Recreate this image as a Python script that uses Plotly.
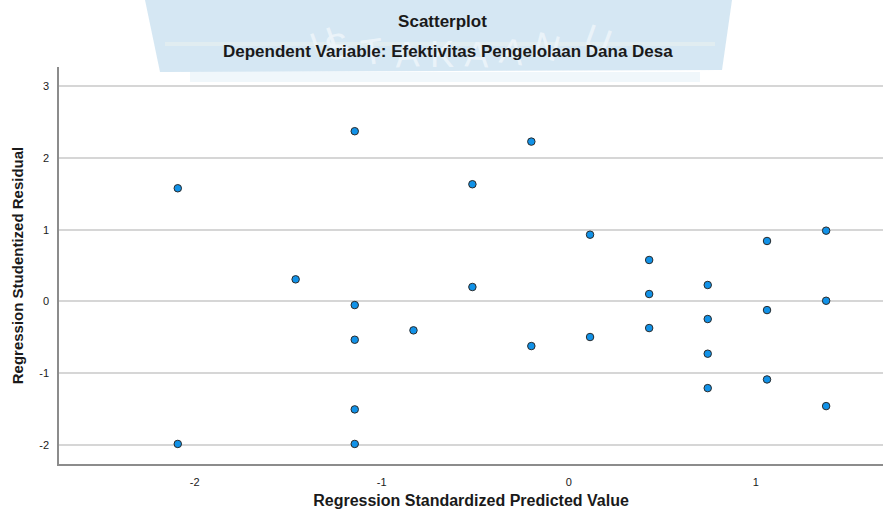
"""Residual scatterplot (SPSS style) rebuilt with Plotly."""

import plotly.graph_objects as go

# Regression standardized predicted value (x) and studentized residual (y)
pred = [-2.09, -2.09, -1.46, -1.144, -1.144, -1.144, -1.144, -1.144, -0.83,
        -0.515, -0.515, -0.20, -0.20, 0.114, 0.114, 0.43, 0.43, 0.43,
        0.743, 0.743, 0.743, 0.743, 1.06, 1.06, 1.06, 1.376, 1.376, 1.376]
resid = [1.578, -1.99, 0.307, 2.374, -0.052, -0.536, -1.508, -1.99, -0.405,
         1.634, 0.20, 2.229, -0.624, 0.93, -0.498, 0.577, 0.102, -0.373,
         0.228, -0.247, -0.731, -1.211, 0.842, -0.122, -1.09, 0.986, 0.008, -1.462]

x_ticks = [-2, -1, 0, 1]
x_labels = ["-2", "-1", "0", "1"]
y_ticks = [-2, -1, 0, 1, 2, 3]
y_labels = ["-2", "-1", "0", "1", "2", "3"]

# faint library watermark letters behind the title
wm_letters = ["U", "S", "T", "A", "K", "A", "A", "N", "U"]

W, H = 885, 521
ML, MR, MT, MB = 59, 2, 67, 57
PW, PH = W - ML - MR, H - MT - MB


def px(x):
    return (x - ML) / PW


def py(y):
    return (H - MB - y) / PH


FONT = "Liberation Sans, Arial, sans-serif"
INK = "#1a1a1a"

fig = go.Figure()

fig.add_trace(go.Scatter(
    x=pred,
    y=resid,
    mode="markers",
    marker=dict(size=7.5, color="#1192e8", line=dict(color="#2a2a2a", width=1)),
    showlegend=False,
    hovertemplate="%{x:.3f}, %{y:.3f}<extra></extra>",
))

# watermark: pale blue shield band behind the titles
fig.add_shape(
    type="path",
    xref="paper", yref="paper",
    path=(f"M {px(145)} {py(0)} L {px(732)} {py(0)} L {px(722)} {py(70)} "
          f"L {px(160)} {py(72)} Z"),
    fillcolor="rgba(206,227,241,0.85)",
    line=dict(width=0),
    layer="below",
)
fig.add_shape(
    type="rect", xref="paper", yref="paper",
    x0=px(190), x1=px(700), y0=py(72), y1=py(82),
    fillcolor="rgba(206,227,241,0.3)", line=dict(width=0), layer="below",
)
fig.add_shape(
    type="rect", xref="paper", yref="paper",
    x0=px(165), x1=px(715), y0=py(42), y1=py(46),
    fillcolor="rgba(240,245,240,0.45)", line=dict(width=0), layer="below",
)

wm_pos = [(302, 16, -20), (337, 21, -14), (372, 27, -8), (407, 31, -3),
          (442, 32, 0), (477, 31, 3), (512, 27, 8), (547, 21, 14), (598, 13, 20)]
for ch, (lx, ly, ang) in zip(wm_letters, wm_pos):
    fig.add_annotation(
        text=ch, x=px(lx), y=py(ly), xref="paper", yref="paper",
        showarrow=False, textangle=ang,
        font=dict(family=FONT, size=36, color="rgba(238,245,250,0.9)"),
    )

fig.add_annotation(
    text="<b>Dependent Variable: Efektivitas Pengelolaan Dana Desa</b>",
    x=px(448), y=py(52), xref="paper", yref="paper",
    showarrow=False, xanchor="center", yanchor="middle",
    font=dict(family=FONT, size=17, color=INK),
)

fig.update_layout(
    width=W, height=H,
    margin=dict(l=ML, r=MR, t=MT, b=MB),
    paper_bgcolor="white",
    plot_bgcolor="rgba(0,0,0,0)",
    font=dict(family=FONT, color=INK),
    title=dict(
        text="<b>Scatterplot</b>",
        x=0.5, xref="container", xanchor="center",
        y=1 - 21 / H, yref="container", yanchor="middle",
        font=dict(family=FONT, size=17, color=INK),
    ),
    xaxis=dict(
        range=[-2.725, 1.68],
        tickvals=x_ticks, ticktext=x_labels,
        showgrid=False, zeroline=False,
        showline=True, linecolor="#8c8c8c", linewidth=1.5,
        ticks="", ticklabelstandoff=7,
        tickfont=dict(size=11, color=INK),
        automargin=False,
        title=dict(text="<b>Regression Standardized Predicted Value</b>",
                   standoff=8, font=dict(size=16, color=INK)),
    ),
    yaxis=dict(
        range=[-2.27, 3.27],
        tickvals=y_ticks, ticktext=y_labels,
        showgrid=True, gridcolor="#d6d6d6", gridwidth=1.5,
        zeroline=False,
        showline=True, linecolor="#8c8c8c", linewidth=1.5,
        ticks="", ticklabelstandoff=6,
        tickfont=dict(size=11, color=INK),
        automargin=False,
        title=dict(text="<b>Regression Studentized Residual</b>",
                   standoff=12, font=dict(size=15, color=INK)),
    ),
)

# the page body has a default 8px margin; drop it so the figure fills the window
fig.write_html(
    "out.html",
    config={"displayModeBar": False},
    post_script="document.body.style.margin = '0';",
)
